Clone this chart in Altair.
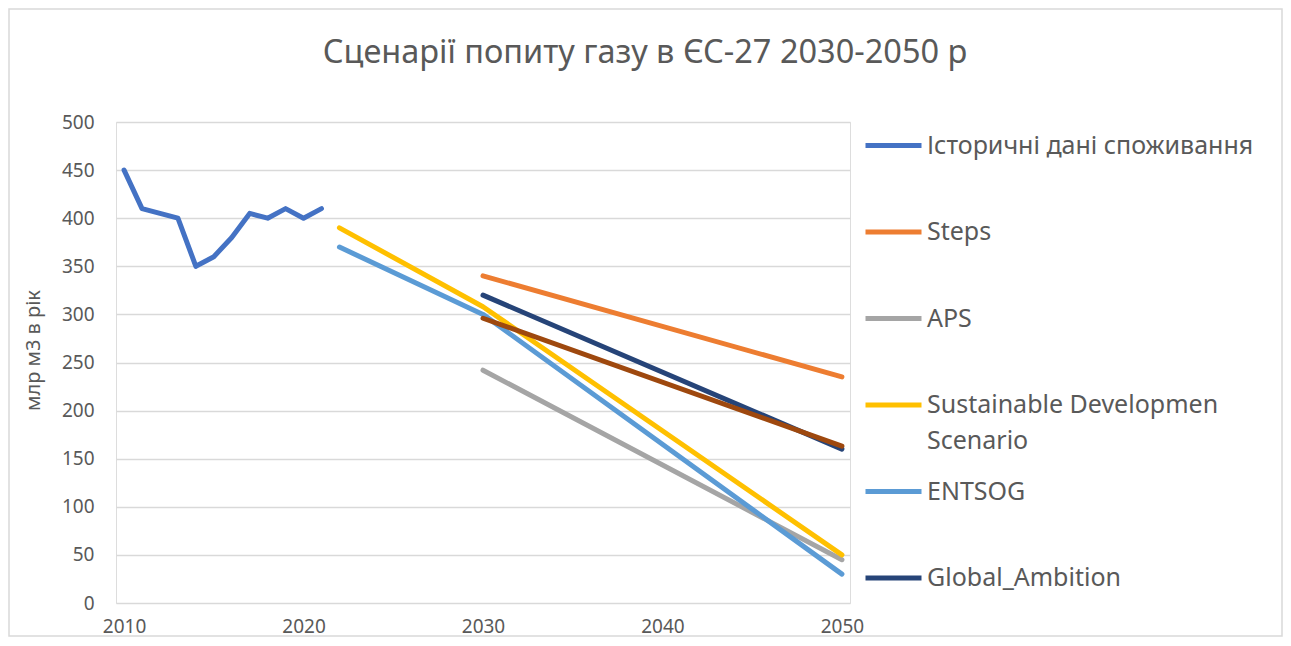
import altair as alt
import pandas as pd

# ---- data ----
hist_years = [2010, 2011, 2012, 2013, 2014, 2015, 2016, 2017, 2018, 2019, 2020, 2021]
hist_values = [450, 410, 405, 400, 350, 360, 380, 405, 400, 410, 400, 410]

steps_years = [2030, 2050]
steps_values = [340, 235]

aps_years = [2030, 2050]
aps_values = [242, 45]

sds_years = [2022, 2030, 2050]
sds_values = [390, 308, 50]

entsog_years = [2022, 2030, 2050]
entsog_values = [370, 300, 30]

ga_years = [2030, 2050]
ga_values = [320, 160]

de_years = [2030, 2050]
de_values = [296, 163]

series_names = [
    "Історичні дані споживання",
    "Steps",
    "APS",
    "Sustainable Developmen Scenario",
    "ENTSOG",
    "Global_Ambition",
    "Distributed_Energy",
]
series_colors = ["#4472C4", "#ED7D31", "#A5A5A5", "#FFC000", "#5B9BD5", "#264478", "#9E480E"]
legend_names = series_names[:6]

x_ticks = [2010, 2020, 2030, 2040, 2050]
y_ticks = [0, 50, 100, 150, 200, 250, 300, 350, 400, 450, 500]

title_text = "Сценарії попиту газу в ЄС-27 2030-2050 р"
y_title = "млр м3 в рік"

# ---- build table ----
rows = []
for name, ys, vs in zip(
    series_names,
    [hist_years, steps_years, aps_years, sds_years, entsog_years, ga_years, de_years],
    [hist_values, steps_values, aps_values, sds_values, entsog_values, ga_values, de_values],
):
    for y, v in zip(ys, vs):
        rows.append({"series": name, "year": y, "value": v})
df = pd.DataFrame(rows)

FONT = "Noto Sans"
TXT = "#595959"

label_expr = (
    "datum.label == 'Sustainable Developmen Scenario' ? "
    "['Sustainable Developmen', 'Scenario'] : [datum.label, '']"
)

lines = (
    alt.Chart(df)
    .mark_line(strokeWidth=5, strokeCap="round", strokeJoin="round", clip=False)
    .encode(
        x=alt.X(
            "year:Q",
            scale=alt.Scale(domain=[2009.55, 2050.45], nice=False, zero=False),
            axis=alt.Axis(
                values=x_ticks,
                format="d",
                title=None,
                grid=False,
                domain=False,
                ticks=False,
                labelPadding=14,
                labelFontSize=19,
                labelColor=TXT,
                labelFont=FONT,
            ),
        ),
        y=alt.Y(
            "value:Q",
            scale=alt.Scale(domain=[0, 500], nice=False),
            axis=alt.Axis(
                values=y_ticks,
                title=y_title,
                grid=True,
                gridColor="#D9D9D9",
                gridWidth=1.5,
                domain=False,
                ticks=False,
                labelPadding=22,
                labelFontSize=19,
                labelColor=TXT,
                labelFont=FONT,
                titleFont=FONT,
                titleFontSize=20,
                titleFontWeight="normal",
                titleColor=TXT,
                titlePadding=18,
                titleY=228,
            ),
        ),
        color=alt.Color(
            "series:N",
            scale=alt.Scale(domain=series_names, range=series_colors),
            sort=series_names,
            legend=alt.Legend(
                values=legend_names,
                orient="none",
                legendX=747,
                legendY=-7,
                title=None,
                symbolType="stroke",
                symbolStrokeWidth=5,
                symbolSize=3136,
                labelFontSize=25,
                labelFont=FONT,
                labelColor=TXT,
                labelLimit=500,
                labelOffset=3,
                rowPadding=6.5,
                padding=0,
                labelExpr=label_expr,
            ),
        ),
        detail="series:N",
        order=alt.Order("year:Q"),
    )
)

frame = alt.Chart(pd.DataFrame({"k": [0]})).mark_rect(
    fill=None, stroke="#D9D9D9", strokeWidth=1.5, clip=False
).encode(
    x=alt.value(-107), x2=alt.value(1166), y=alt.value(-113), y2=alt.value(514)
)

title = alt.Chart(pd.DataFrame({"t": [title_text]})).mark_text(
    font=FONT, fontSize=32.5, color=TXT, align="center", baseline="alphabetic"
).encode(text="t:N", x=alt.value(529), y=alt.value(-59))

chart = (
    alt.layer(frame, lines, title)
    .properties(
        width=734,
        height=481,
        autosize=alt.AutoSizeParams(type="none"),
        padding={"left": 108, "top": 114, "right": 433, "bottom": 35},
    )
    .configure_view(stroke=None)
    .configure(background="white", style={"guide-label": {"lineHeight": 36}})
)

chart.save("out.html", embed_options={"renderer": "svg", "actions": False})
